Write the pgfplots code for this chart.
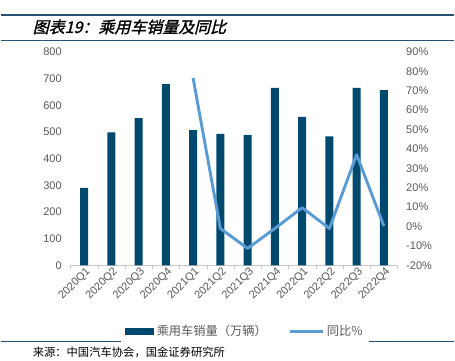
\documentclass[border=0pt]{standalone}
\usepackage{fontspec}
\setmainfont{Liberation Sans}
\newfontfamily\cjk{Noto Sans CJK SC}
\newfontfamily\cjktitle[FakeSlant=0.25,FakeBold=1.5]{Noto Sans CJK SC}
\usepackage{pgfplots}
\pgfplotsset{compat=1.18}
\definecolor{barc}{RGB}{0,73,110}
\definecolor{linec}{RGB}{91,155,213}
\definecolor{tickc}{RGB}{89,89,89}
\definecolor{rulec}{RGB}{40,80,115}
\definecolor{axc}{RGB}{200,200,200}
\begin{document}
\begin{tikzpicture}
\begin{scope}[x=0.75pt,y=0.75pt]
\path (0,0) rectangle (455,361);
\draw[rulec, line width=0.9pt] (0,346) -- (455,346);
\draw[rulec, line width=0.9pt] (0,320.5) -- (455,320.5);
\draw[rulec, line width=0.9pt] (0,19) -- (455,19);
\node[anchor=west, inner sep=0pt, font=\cjktitle\fontsize{12}{14}\selectfont] at (32,334) {图表19：乘用车销量及同比};
\node[anchor=west, inner sep=0pt, font=\cjk\fontsize{8.5}{10}\selectfont] at (32,8) {来源：中国汽车协会，国金证券研究所};
\end{scope}
\begin{axis}[
  at={(52.5pt,71.25pt)}, anchor=south west, scale only axis,
  width=246pt, height=160.5pt,
  xmin=-0.5, xmax=11.5, ymin=0, ymax=800,
  ytick={0,100,...,800},
  xtick={0,...,11},
  xticklabels={2020Q1,2020Q2,2020Q3,2020Q4,2021Q1,2021Q2,2021Q3,2021Q4,2022Q1,2022Q2,2022Q3,2022Q4},
  extra x ticks={-0.5,0.5,...,11.5}, extra x tick labels={},
  extra x tick style={major tick length=3pt, tick style={axc}},
  major tick length=0pt,
  tick align=outside,
  axis x line*=bottom, axis y line*=left,
  x axis line style={draw=axc, -}, y axis line style={draw=none},
  xticklabel style={rotate=45, anchor=north east, font=\fontsize{8.3}{9}\selectfont, text=tickc, inner sep=1pt, xshift=1pt},
  yticklabel style={font=\fontsize{8.3}{9}\selectfont, text=tickc, xshift=-3pt},
  /pgf/number format/assume math mode=true,
  legend style={at={(0.534,-0.31)}, anchor=center, draw=none, legend columns=2,
    font=\cjk\fontsize{9.2}{10}\selectfont, text=tickc,
    /tikz/every even column/.append style={column sep=14pt}},
]
\addplot[ybar, bar width=6pt, fill=barc, draw=none,
  legend image code/.code={\fill[barc] (0pt,-2.3pt) rectangle (22pt,2.3pt);}]
  coordinates {(0,290)(1,498)(2,552)(3,679)(4,507)(5,493)(6,489)(7,665)(8,556)(9,483)(10,665)(11,657)};
\addlegendentry{乘用车销量（万辆）}
\addlegendimage{legend image code/.code={\draw[linec,line width=2.2pt] (0pt,0pt)--(25pt,0pt);}}
\addlegendentry{同比\%}
\end{axis}
\begin{axis}[
  at={(52.5pt,71.25pt)}, anchor=south west, scale only axis,
  width=246pt, height=160.5pt,
  xmin=-0.5, xmax=11.5, ymin=-20, ymax=90,
  ytick={-20,-10,...,90},
  yticklabel={\pgfmathprintnumber{\tick}\%},
  axis y line*=right, axis x line=none,
  y axis line style={draw=none},
  major tick length=0pt,
  yticklabel style={font=\fontsize{8.3}{9}\selectfont, text=tickc, xshift=3pt},
  /pgf/number format/assume math mode=true,
]
\addplot[linec, line width=2.2pt, line join=round] coordinates {(4,76.5)(5,-1)(6,-11.3)(7,-1)(8,9.7)(9,-1)(10,37)(11,0.2)};
\end{axis}
\end{tikzpicture}
\end{document}
